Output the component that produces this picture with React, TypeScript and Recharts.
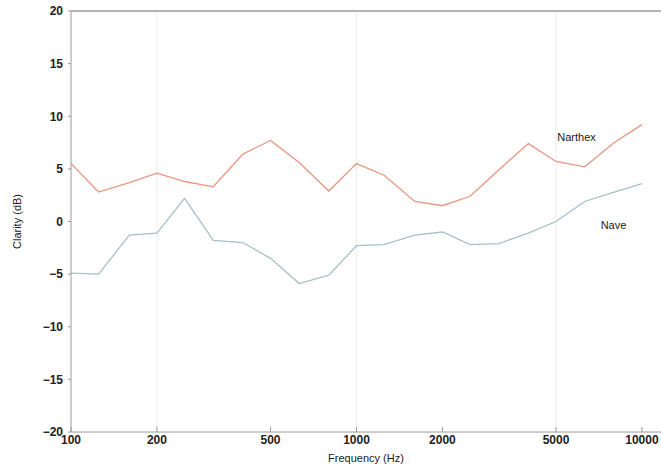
import { LineChart, Line, XAxis, YAxis, ReferenceLine, ReferenceDot } from 'recharts'

// third-octave band centres (Hz)
const freqs = [100, 125, 160, 200, 250, 315, 400, 500, 630, 800, 1000, 1250, 1600, 2000, 2500, 3150, 4000, 5000, 6300, 8000, 10000]
const narthex = [5.5, 2.8, 3.7, 4.6, 3.8, 3.3, 6.4, 7.7, 5.6, 2.9, 5.5, 4.4, 1.9, 1.5, 2.4, 4.9, 7.4, 5.7, 5.2, 7.5, 9.2]
const nave = [-4.9, -5.0, -1.3, -1.1, 2.2, -1.8, -2.0, -3.5, -5.9, -5.1, -2.3, -2.2, -1.3, -1.0, -2.2, -2.1, -1.1, 0.0, 1.9, 2.8, 3.6]

const xTicks = [100, 200, 500, 1000, 2000, 5000, 10000]
const xMinorTicks = [300, 400, 600, 700, 800, 900, 3000, 4000, 6000, 7000, 8000, 9000]
const yTicks = [-20, -15, -10, -5, 0, 5, 10, 15, 20]
const yMinorTicks = [-19, -18, -17, -16, -14, -13, -12, -11, -9, -8, -7, -6, -4, -3, -2, -1, 1, 2, 3, 4, 6, 7, 8, 9, 11, 12, 13, 14, 16, 17, 18, 19]
const gridFreqs = [200, 1000, 5000]

const data = freqs.map((f, i) => ({ f, narthex: narthex[i], nave: nave[i] }))

const font = '"Liberation Sans", Arial, sans-serif'
const axisColor = '#9a9a9a'
const tickStyle = { fontFamily: font, fontSize: 12, fontWeight: 600, fill: '#222' }

export default function App() {
  return (
    <div style={{ position: 'absolute', left: 0, top: 0, width: 661, height: 466, overflow: 'hidden' }}>
      <LineChart width={661} height={466} data={data} margin={{ top: 11, right: 0, bottom: 0, left: 0 }}>
        {gridFreqs.map((g) => (
          <ReferenceLine key={g} x={g} stroke='#ececec' strokeWidth={1} />
        ))}
        <ReferenceLine y={20} stroke={axisColor} strokeWidth={1.5} />
        <XAxis
          xAxisId='minor'
          dataKey='f'
          type='number'
          scale='log'
          domain={[100, 11660]}
          allowDataOverflow
          ticks={xMinorTicks}
          height={0}
          mirror
          tickSize={3}
          tickFormatter={() => ''}
          stroke={axisColor}
        />
        <XAxis
          dataKey='f'
          type='number'
          scale='log'
          domain={[100, 11660]}
          allowDataOverflow
          ticks={xTicks}
          interval={0}
          height={34}
          tickSize={-5}
          tickMargin={8}
          stroke={axisColor}
          tick={tickStyle}
          label={{ value: 'Frequency (Hz)', position: 'insideBottom', offset: 4, style: { fontFamily: font, fontSize: 11, fontWeight: 500, fill: '#222' } }}
        />
        <YAxis
          yAxisId='minor'
          type='number'
          domain={[-20, 20]}
          ticks={yMinorTicks}
          width={0}
          mirror
          tickSize={3}
          tickFormatter={() => ''}
          stroke={axisColor}
        />
        <YAxis
          type='number'
          domain={[-20, 20]}
          ticks={yTicks}
          interval={0}
          width={71}
          tickSize={3}
          tickMargin={5}
          stroke={axisColor}
          tick={tickStyle}
          tickFormatter={(v) => (v < 0 ? '\u2212' + Math.abs(v) : String(v))}
          label={{ value: 'Clarity (dB)', angle: -90, position: 'insideLeft', offset: 17, style: { textAnchor: 'middle', fontFamily: font, fontSize: 11, fontWeight: 500, fill: '#222' } }}
        />
        <Line dataKey='narthex' stroke='#e9957f' strokeWidth={1.3} dot={false} isAnimationActive={false} />
        <Line dataKey='nave' stroke='#a6c0c6' strokeWidth={1.3} dot={false} isAnimationActive={false} />
        <ReferenceDot x={5900} y={8} r={0} fill='none' stroke='none' label={{ value: 'Narthex', position: 'center', style: { fontFamily: font, fontSize: 11, fill: '#222' } }} />
        <ReferenceDot x={7950} y={-0.3} r={0} fill='none' stroke='none' label={{ value: 'Nave', position: 'center', style: { fontFamily: font, fontSize: 11, fill: '#222' } }} />
      </LineChart>
    </div>
  )
}
